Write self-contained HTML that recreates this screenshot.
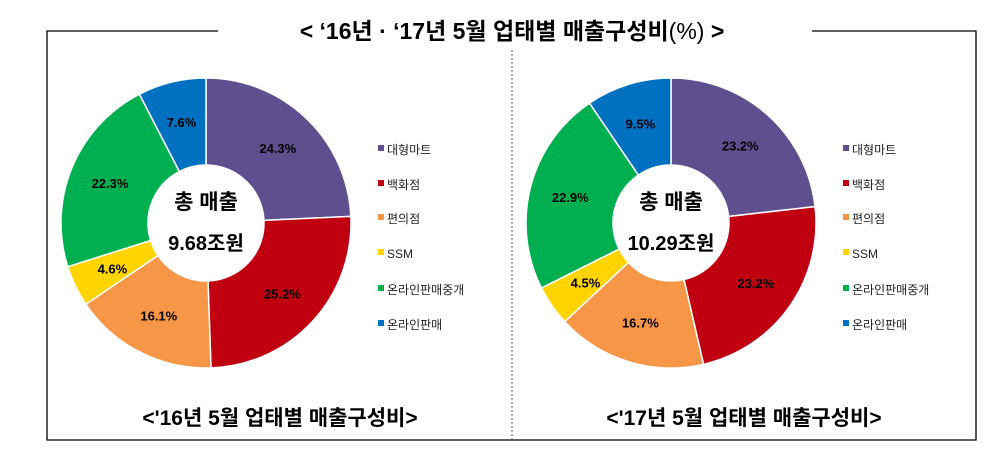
<!DOCTYPE html>
<html><head><meta charset="utf-8"><style>
body{margin:0;background:#fff;}
svg text{font-family:"Liberation Sans","Noto Sans CJK KR",sans-serif;}
</style></head><body>
<svg id="s" width="1000" height="462" viewBox="0 0 1000 462" xmlns="http://www.w3.org/2000/svg">
<g stroke="#000" stroke-width="1.3" fill="none">
<polyline points="218,31 47,31 47,440 976,440 976,31 812,31"/>
</g>
<line x1="512" y1="50" x2="512" y2="440" stroke="#555" stroke-width="1" stroke-dasharray="2,2"/>
<text x="512" y="39" text-anchor="middle" font-size="23" font-weight="bold">&lt; ‘16년 · ‘17년 5월 업태별 매출구성비<tspan font-weight="normal">(%)</tspan> &gt;</text>
<g id="c1"></g><g id="c2"></g>
<text x="280" y="425" text-anchor="middle" font-size="21" font-weight="bold">&lt;'16년 5월 업태별 매출구성비&gt;</text>
<text x="744" y="425" text-anchor="middle" font-size="21" font-weight="bold">&lt;'17년 5월 업태별 매출구성비&gt;</text>
</svg>
<script>
var cols=["#5f4f8f","#c00010","#f79646","#ffd400","#00b050","#0070c0"];
var names=["대형마트","백화점","편의점","SSM","온라인판매중개","온라인판매"];
function donut(g,cx,cy,vals,lab,lx,center){
 var R=145,r=58,a=0,s="";var tot=vals.reduce((x,y)=>x+y,0);
 vals.forEach(function(v,i){
  var a0=a/tot*2*Math.PI,a1=(a+v)/tot*2*Math.PI;a+=v;
  var p=(t,rr)=>(cx+rr*Math.sin(t)).toFixed(2)+","+(cy-rr*Math.cos(t)).toFixed(2);
  var lg=(a1-a0)>Math.PI?1:0;
  s+='<path d="M'+p(a0,R)+' A'+R+','+R+' 0 '+lg+' 1 '+p(a1,R)+' L'+p(a1,r)+' A'+r+','+r+' 0 '+lg+' 0 '+p(a0,r)+'Z" fill="'+cols[i]+'" stroke="#fff" stroke-width="1.5"/>';
  var m=(a0+a1)/2,rl=104;
  s+='<text x="'+(cx+rl*Math.sin(m)).toFixed(1)+'" y="'+(cy-rl*Math.cos(m)+5).toFixed(1)+'" text-anchor="middle" font-size="13" font-weight="bold" fill="#000">'+lab[i]+'</text>';
 });
 s+='<text x="'+cx+'" y="'+(cy-14)+'" text-anchor="middle" font-size="21" font-weight="bold">총 매출</text>';
 s+='<text x="'+cx+'" y="'+(cy+27)+'" text-anchor="middle" font-size="20" font-weight="bold">'+center+'</text>';
 var ys=[150,185,219,254,290,325];
 names.forEach(function(n,i){
  s+='<rect x="'+lx+'" y="'+(ys[i]-5)+'" width="6" height="6" fill="'+cols[i]+'"/>';
  s+='<text x="'+(lx+9)+'" y="'+(ys[i]+4)+'" font-size="12" fill="#222">'+n+'</text>';
 });
 document.getElementById(g).innerHTML=s;
}
donut("c1",206,223,[24.3,25.2,16.1,4.6,22.3,7.6],["24.3%","25.2%","16.1%","4.6%","22.3%","7.6%"],378,"9.68조원");
donut("c2",671,223,[23.2,23.2,16.7,4.5,22.9,9.5],["23.2%","23.2%","16.7%","4.5%","22.9%","9.5%"],843,"10.29조원");
</script>
</body></html>
